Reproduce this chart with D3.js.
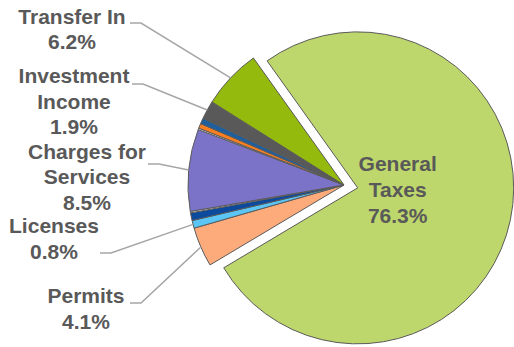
<!DOCTYPE html>
<html>
<head>
<meta charset="utf-8">
<script src="https://cdn.jsdelivr.net/npm/d3@7"></script>
<style>
  html, body { margin: 0; padding: 0; background: #ffffff; }
  svg { display: block; }
</style>
</head>
<body>
<svg id="chart" width="514" height="347"></svg>
<script>
// ---- data (clockwise from the top-left edge of General Taxes) ----
const categories = ["General Taxes", "Permits", "Licenses", "Other A", "Other B", "Charges for Services", "Other C", "Other D", "Other E", "Investment Income", "Transfer In"];
const values     = [76.3, 4.1, 0.8, 0.8, 0.15, 8.5, 0.15, 0.5, 0.6, 1.9, 6.2];
const colors     = ["#bed76c", "#feab7b", "#5bc6f5", "#0b4a9c", "#ffffff", "#7b73c8", "#ffffff", "#f77f22", "#1f5f9e", "#595959", "#93ba0c"];
const labelLines = {
  "General Taxes": ["General", "Taxes", "76.3%"],
  "Transfer In": ["Transfer In", "6.2%"],
  "Investment Income": ["Investment", "Income", "1.9%"],
  "Charges for Services": ["Charges for", "Services", "8.5%"],
  "Licenses": ["Licenses", "0.8%"],
  "Permits": ["Permits", "4.1%"]
};

// ---- layout ----
const cx = 344, cy = 185, R = 156, explode = 14;
const startDeg = -35.5;
const labelLayout = {
  "Transfer In":          { x: 72, y: 23.5, lx: 130, ly: 23 },
  "Investment Income":    { x: 74, y: 83,   lx: 132, ly: 84 },
  "Charges for Services": { x: 87, y: 158.5,lx: 148, ly: 164 },
  "Licenses":             { x: 54, y: 233,  lx: 100, ly: 253 },
  "Permits":              { x: 86, y: 303,  lx: 130, ly: 303 }
};

const svg = d3.select("#chart");
const data = categories.map((c, i) => ({ name: c, value: values[i], color: colors[i] }));

const pie = d3.pie().sort(null).value(d => d.value)
  .startAngle(startDeg * Math.PI / 180)
  .endAngle(startDeg * Math.PI / 180 + 2 * Math.PI);
const arcs = pie(data);
const arc = d3.arc().innerRadius(0).outerRadius(R);

const g = svg.append("g").attr("transform", `translate(${cx},${cy})`);

g.selectAll("path.slice").data(arcs).join("path")
  .attr("class", "slice")
  .attr("d", arc)
  .attr("fill", d => d.data.color)
  .attr("stroke", "#5a5a5a")
  .attr("stroke-width", 1)
  .attr("stroke-linejoin", "round")
  .attr("transform", d => {
    if (d.data.name !== "General Taxes") return null;
    const m = (d.startAngle + d.endAngle) / 2;
    return `translate(${explode * Math.sin(m)},${-explode * Math.cos(m)})`;
  });

// leader lines
const lineColor = "#a6a6a6";
arcs.forEach(d => {
  const L = labelLayout[d.data.name];
  if (!L) return;
  const m = (d.startAngle + d.endAngle) / 2;
  const ex = cx + R * Math.sin(m), ey = cy - R * Math.cos(m);
  svg.append("polyline")
    .attr("points", `${L.lx},${L.ly} ${L.lx + 11},${L.ly} ${ex},${ey}`)
    .attr("fill", "none")
    .attr("stroke", lineColor)
    .attr("stroke-width", 1.5);
});

// labels
const font = "'Liberation Sans', Arial, Helvetica, sans-serif";
function drawLabel(lines, x, y, lh) {
  const t = svg.append("text")
    .attr("text-anchor", "middle")
    .attr("font-family", font)
    .attr("font-weight", "bold")
    .attr("font-size", 21)
    .attr("fill", "#595959");
  lines.forEach((s, i) => {
    t.append("tspan").attr("x", x).attr("y", y + i * lh).text(s);
  });
}
Object.keys(labelLayout).forEach(k => {
  const L = labelLayout[k];
  drawLabel(labelLines[k], L.x, L.y, 25.5);
});
// General Taxes label inside the exploded slice
const gArc = arcs[0];
const gm = (gArc.startAngle + gArc.endAngle) / 2;
drawLabel(labelLines["General Taxes"], cx + explode * Math.sin(gm) + 40, 171, 26);
</script>
</body>
</html>
